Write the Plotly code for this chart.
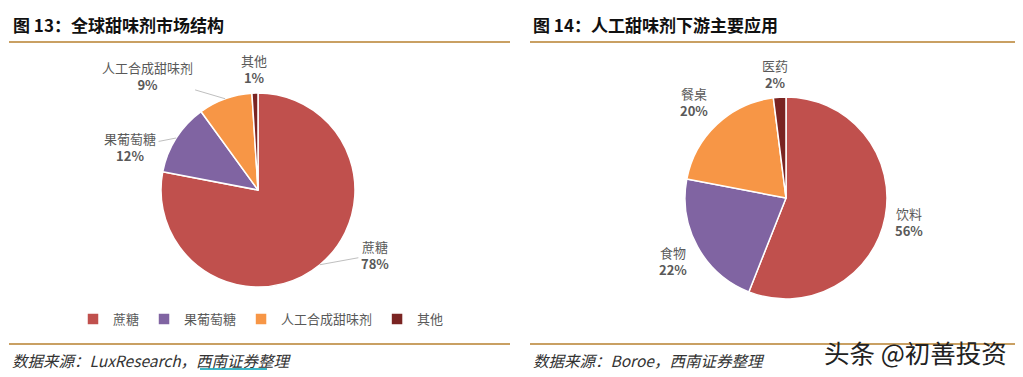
import numpy as np
import plotly.graph_objects as go

# ---- data ----
left_labels = ["蔗糖", "果葡萄糖", "人工合成甜味剂", "其他"]
left_values = [78, 12, 9, 1]
right_labels = ["饮料", "食物", "餐桌", "医药"]
right_values = [56, 22, 20, 2]
colors = ["#C0504D", "#8064A2", "#F79646", "#7A2422"]

left_title = "图 13：全球甜味剂市场结构"
right_title = "图 14：人工甜味剂下游主要应用"
left_source = "数据来源：LuxResearch，西南证券整理"
right_source = "数据来源：Boroe，西南证券整理"
watermark = "头条 @初善投资"

# ---- layout constants (screen pixels of the 1023x377 page) ----
PAGE_OFF = 8            # default body margin of the html page
FW, FH = 1023 - PAGE_OFF, 377 - PAGE_OFF
FONT = "Noto Sans CJK SC"
RULE = "#C9A063"
LABEL_COLOR = "#595959"
LEADER = "#BFBFBF"

# pie geometry: centre x, centre y, radius
LEFT_PIE = (258, 190, 97)
RIGHT_PIE = (786, 198, 101)
# label offsets (px) from the slice's outer mid point, and whether a leader line is drawn
left_offsets = [(55, -10, True), (-46, 9, True), (-78, -23, True), (-1, -24, False)]
right_offsets = [(24, 5, False), (-24, 14, False), (-23, -22, False), (-5, -23, False)]


def px(x):
    return (x - PAGE_OFF) / FW


def py(y):
    return 1 - (y - PAGE_OFF) / FH


def pie_domain(geom):
    cx, cy, r = geom
    return dict(x=[px(cx - r), px(cx + r)], y=[py(cy + r), py(cy - r)])


def slice_labels(labels, values, geom, offsets):
    cx, cy, r = geom
    vals = np.asarray(values, dtype=float)
    total = vals.sum()
    mids = (np.cumsum(vals) - vals / 2) / total * 2 * np.pi  # clockwise from 12 o'clock
    anns = []
    for lab, v, th, (ax, ay, lead) in zip(labels, vals, mids, offsets):
        tx = cx + r * np.sin(th)
        ty = cy - r * np.cos(th)
        anns.append(dict(
            text=f"{lab}<br><b>{v / total:.0%}</b>",
            x=px(tx), y=py(ty), xref="paper", yref="paper",
            showarrow=True, ax=ax, ay=ay, axref="pixel", ayref="pixel",
            arrowhead=0, arrowwidth=1,
            arrowcolor=LEADER if lead else "rgba(0,0,0,0)",
            standoff=0, startstandoff=1,
            font=dict(family=FONT, size=13, color=LABEL_COLOR),
            align="center",
        ))
    return anns


fig = go.Figure()

fig.add_trace(go.Pie(
    labels=left_labels, values=left_values, sort=False, direction="clockwise",
    rotation=0, marker=dict(colors=colors, line=dict(color="white", width=1.5)),
    textinfo="none", domain=pie_domain(LEFT_PIE),
    showlegend=True, name="left", hoverinfo="label+percent",
))

fig.add_trace(go.Pie(
    labels=right_labels, values=right_values, sort=False, direction="clockwise",
    rotation=0, marker=dict(colors=colors, line=dict(color="white", width=1.5)),
    textinfo="none", domain=pie_domain(RIGHT_PIE),
    showlegend=False, name="right", hoverinfo="label+percent",
))


def hline(x0, x1, y, color, width):
    return dict(type="line", xref="paper", yref="paper", x0=px(x0), x1=px(x1),
                y0=py(y), y1=py(y), line=dict(color=color, width=width))


shapes = [
    hline(9, 510, 42, RULE, 2),
    hline(530, 1030, 42, RULE, 2),
    hline(9, 510, 344, RULE, 2),
    hline(530, 1030, 344, RULE, 2),
    hline(200, 267, 369, "#3DB6C6", 2),   # underline on the source link
]

annotations = [
    dict(text="<b>" + left_title + "</b>", x=px(11), y=py(24), xref="paper", yref="paper",
         xanchor="left", yanchor="middle", showarrow=False,
         font=dict(family=FONT, size=17, color="#111111")),
    dict(text="<b>" + right_title + "</b>", x=px(531), y=py(24), xref="paper", yref="paper",
         xanchor="left", yanchor="middle", showarrow=False,
         font=dict(family=FONT, size=17, color="#111111")),
    dict(text="<i>" + left_source + "</i>", x=px(10), y=py(360), xref="paper", yref="paper",
         xanchor="left", yanchor="middle", showarrow=False,
         font=dict(family=FONT, size=15.5, color="#333333")),
    dict(text="<i>" + right_source + "</i>", x=px(531), y=py(360), xref="paper", yref="paper",
         xanchor="left", yanchor="middle", showarrow=False,
         font=dict(family=FONT, size=15.5, color="#333333")),
    dict(text=watermark, x=px(822), y=py(351), xref="paper", yref="paper",
         xanchor="left", yanchor="middle", showarrow=False,
         font=dict(family=FONT, size=25.5, color="#222222")),
]
annotations += slice_labels(left_labels, left_values, LEFT_PIE, left_offsets)
annotations += slice_labels(right_labels, right_values, RIGHT_PIE, right_offsets)

fig.update_layout(
    width=FW, height=FH,
    margin=dict(l=0, r=0, t=0, b=0),
    paper_bgcolor="white", plot_bgcolor="white",
    shapes=shapes, annotations=annotations,
    legend=dict(orientation="h", x=px(261), y=py(319), xanchor="center", yanchor="middle",
                font=dict(family=FONT, size=13, color=LABEL_COLOR), itemwidth=30,
                bgcolor="rgba(0,0,0,0)"),
)

fig.write_html("out.html")
